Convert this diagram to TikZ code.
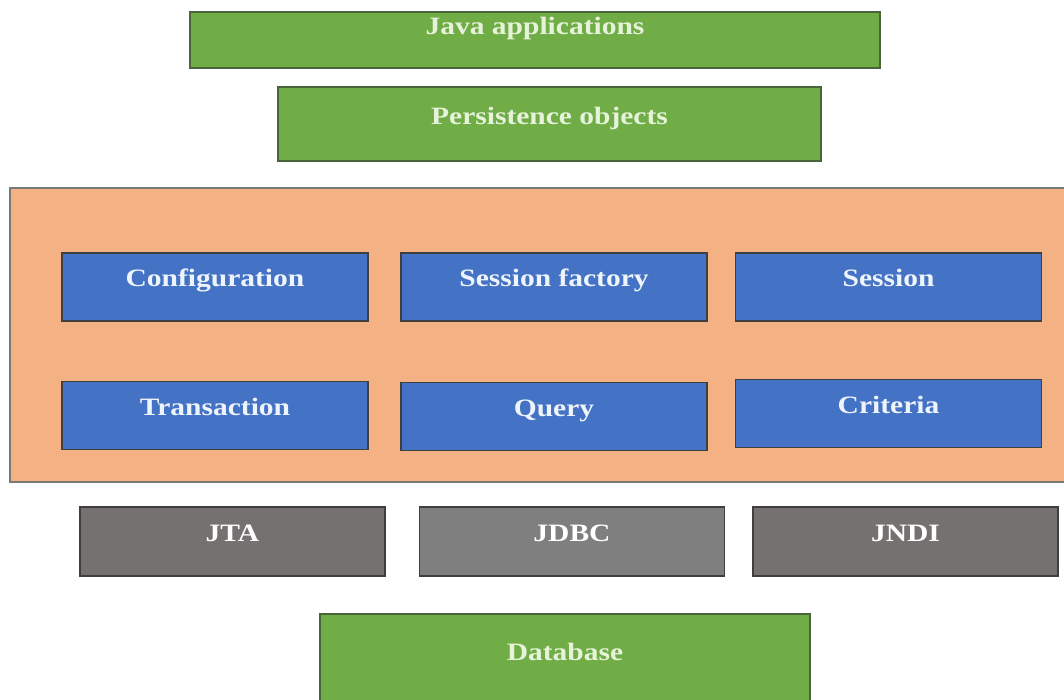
\documentclass[tikz,border=0pt]{standalone}
\usepackage{fontspec}
\setmainfont{Liberation Serif}[FakeStretch=1.18]
\definecolor{appgreen}{HTML}{70AD47}
\definecolor{greenedge}{HTML}{4A6338}
\definecolor{greentext}{HTML}{E6F3DA}
\definecolor{coreblue}{HTML}{4472C4}
\definecolor{bluetext}{HTML}{EEF4FB}
\definecolor{coreorange}{HTML}{F4B183}
\definecolor{darkgrey}{HTML}{767171}
\definecolor{midgrey}{HTML}{7F7F7F}
\definecolor{edge}{HTML}{3F3F3F}
\tikzset{
  x=1pt, y=1pt,
  layer/.style={rectangle, inner sep=0pt, line width=1.3pt,
    font=\fontsize{25}{30}\selectfont\bfseries,
    text height=17pt, text depth=17pt},
  greenbox/.style={layer, fill=appgreen, draw=greenedge, text=greentext},
  bluebox/.style={layer, fill=coreblue, draw=edge, text=bluetext,
    minimum width=306pt, minimum height=68pt},
  greybox/.style={layer, fill=darkgrey, draw=edge, text=white,
    minimum width=305pt, minimum height=69pt},
}
\begin{document}
\begin{tikzpicture}
\useasboundingbox (0,0) rectangle (1064,700);
\fill[white] (0,0) rectangle (1064,700);

% application layer
\node[greenbox, minimum width=690pt, minimum height=56pt, text depth=27pt]
  (java) at (535,660) {Java applications};
\node[greenbox, minimum width=543pt, minimum height=74pt, text depth=15pt]
  (persist) at (549.5,576) {Persistence objects};

% Hibernate core
\begin{scope}
\clip (0,0) rectangle (1064,700);
\node[rectangle, fill=coreorange, draw=edge!70, line width=1.3pt,
  minimum width=1070pt, minimum height=294pt, inner sep=0pt]
  (core) at (545,365) {};
\end{scope}
\node[bluebox] (config)   at (215,413) {Configuration};
\node[bluebox] (factory)  at (554,413) {Session factory};
\node[bluebox] (session)  at (888.5,413) {Session};
\node[bluebox] (trans)    at (215,284.5) {Transaction};
\node[bluebox] (query)    at (554,283.5) {Query};
\node[bluebox] (criteria) at (888.5,286.5) {Criteria};

% Java APIs
\node[greybox] (jta)  at (232.5,158.5) {JTA};
\node[greybox, fill=midgrey] (jdbc) at (572,158.5) {JDBC};
\node[greybox] (jndi) at (905.5,158.5) {JNDI};

% storage
\begin{scope}
\clip (0,0) rectangle (1064,700);
\node[greenbox, minimum width=490pt, minimum height=100pt, text depth=23pt]
  (db) at (565,36) {Database};
\end{scope}
\end{tikzpicture}
\end{document}
